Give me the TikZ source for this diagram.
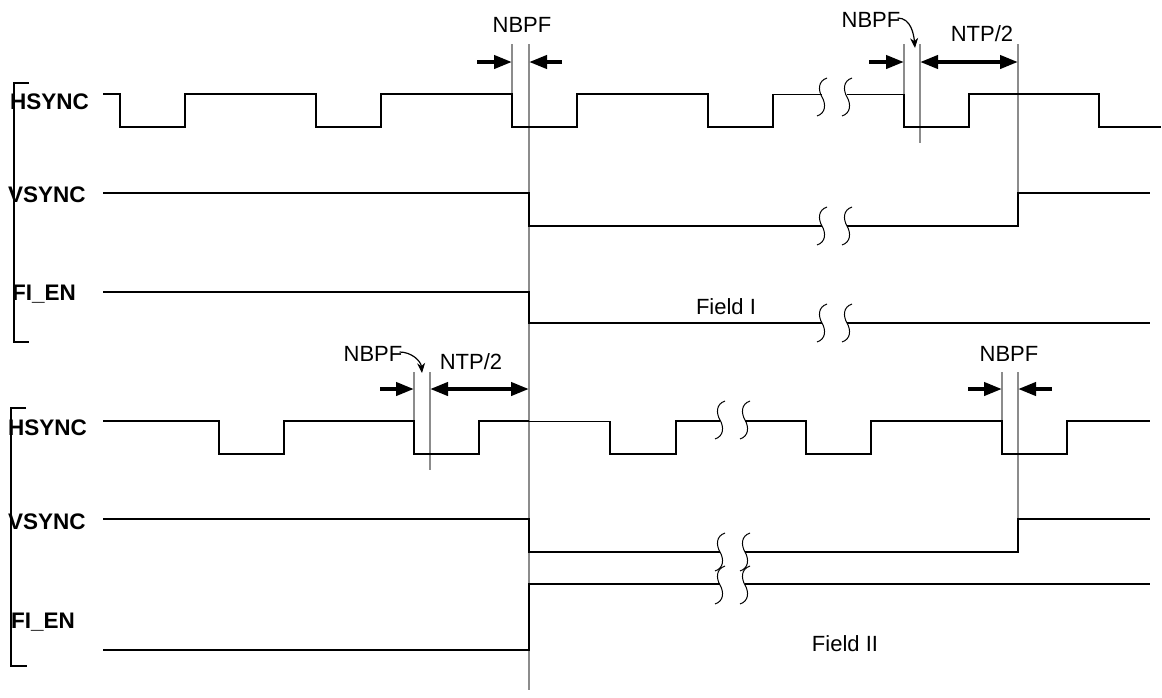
\documentclass[tikz,border=0pt]{standalone}
\usepackage{fontspec}
\setmainfont{Liberation Sans}
\usetikzlibrary{arrows.meta}
\definecolor{guidegray}{RGB}{140,140,140}
\tikzset{
  sig/.style={line width=2pt, line join=miter},
  thinsig/.style={line width=1pt},
  guide/.style={line width=2pt, draw=guidegray},
  dimarrow/.style={line width=4pt, -{Triangle[length=18pt,width=13pt]}},
  dimboth/.style={line width=4pt, {Triangle[length=18pt,width=13pt]}-{Triangle[length=18pt,width=13pt]}},
  bracketline/.style={line width=2pt},
  signame/.style={font=\fontsize{22.5}{26}\selectfont\bfseries, anchor=west, inner sep=0pt},
  lbl/.style={font=\fontsize{22}{26}\selectfont, inner sep=0pt},
  callout/.style={line width=1.2pt, -{Stealth[length=10pt,width=8pt]}},
  brkmark/.pic={\draw[line width=1pt] (5,-19) .. controls (-4,-16) and (-4,-7) .. (0,0) .. controls (4,7) and (4,16) .. (-5,19);}
}
\begin{document}
\begin{tikzpicture}[x=1pt,y=-1pt]
\useasboundingbox (0,0) rectangle (1162,697);

% ---------- brackets ----------
\draw[bracketline] (29,83) -- (14,83) -- (14,342) -- (29,342);
\draw[bracketline] (26,408) -- (11,408) -- (11,666) -- (27,666);

% ---------- signal names ----------
\node[signame] (hs1) at (10,102) {HSYNC};
\node[signame] (vs1) at (8,195) {VSYNC};
\node[signame] (fi1) at (12,294) {FI\_EN};
\node[signame] (hs2) at (8,428) {HSYNC};
\node[signame] (vs2) at (8,522) {VSYNC};
\node[signame] (fi2) at (11,622) {FI\_EN};

% ---------- guide lines ----------
\draw[guide] (529,44) -- (529,690);
\draw[guide] (512,44) -- (512,94);
\draw[guide] (904,44) -- (904,94);
\draw[guide] (920,44) -- (920,143);
\draw[guide] (1018,44) -- (1018,193);
\draw[guide] (414,372) -- (414,421);
\draw[guide] (430,372) -- (430,470);
\draw[guide] (1002,372) -- (1002,421);
\draw[guide] (1018,372) -- (1018,519);

% ---------- top field ----------
\draw[sig] (103,94) -- (120,94) -- (120,127) -- (185,127) -- (185,94) -- (316,94) -- (316,127)
  -- (381,127) -- (381,94) -- (512,94) -- (512,127) -- (577,127) -- (577,94) -- (708,94)
  -- (708,127) -- (773,127) -- (773,94);
\draw[thinsig] (773,94) -- (822,94);
\draw[thinsig] (847,94) -- (904,94);
\draw[sig] (904,94) -- (904,127) -- (969,127) -- (969,94) -- (1099,94) -- (1099,127) -- (1161,127);
\pic at (822,97) {brkmark};
\pic at (847,97) {brkmark};

\draw[sig] (103,193) -- (529,193) -- (529,226) -- (822,226);
\draw[sig] (847,226) -- (1018,226) -- (1018,193) -- (1150,193);
\pic at (822,226) {brkmark};
\pic at (847,226) {brkmark};

\draw[sig] (103,292) -- (529,292) -- (529,323) -- (822,323);
\draw[sig] (847,323) -- (1150,323);
\pic at (822,323) {brkmark};
\pic at (847,323) {brkmark};
\node[lbl] (f1) at (726,307) {Field I};

% top dimensions
\coordinate (a1) at (477,62); \coordinate (a1e) at (512,62);
\coordinate (a2) at (562,62); \coordinate (a2e) at (529,62);
\draw[dimarrow] (a1) -- (a1e);
\draw[dimarrow] (a2) -- (a2e);
\node[lbl] (nb1) at (522,25) {NBPF};

\coordinate (a3) at (869,62); \coordinate (a3e) at (904,62);
\coordinate (a4) at (920,62); \coordinate (a4e) at (1018,62);
\draw[dimarrow] (a3) -- (a3e);
\draw[dimboth] (a4) -- (a4e);
\node[lbl] (nb2) at (871,20) {NBPF};
\node[lbl] (ntp1) at (982,34) {NTP/2};
\coordinate (c2) at (915,48);
\draw[callout] ([xshift=-3pt,yshift=2pt]nb2.east) to[out=0,in=95] (c2);

% ---------- bottom field ----------
\draw[sig] (103,421) -- (219,421) -- (219,454) -- (284,454) -- (284,421) -- (414,421) -- (414,454)
  -- (479,454) -- (479,421) -- (529,421);
\draw[thinsig] (529,421) -- (610,421);
\draw[sig] (610,421) -- (610,454) -- (676,454) -- (676,421) -- (720,421);
\draw[sig] (745,421) -- (806,421) -- (806,454) -- (871,454) -- (871,421) -- (1002,421) -- (1002,454)
  -- (1067,454) -- (1067,421) -- (1150,421);
\pic at (720,420) {brkmark};
\pic at (745,420) {brkmark};

\draw[sig] (103,519) -- (529,519) -- (529,552) -- (720,552);
\draw[sig] (745,552) -- (1018,552) -- (1018,519) -- (1150,519);
\pic at (720,552) {brkmark};
\pic at (745,552) {brkmark};

\draw[sig] (103,650) -- (529,650) -- (529,584) -- (720,584);
\draw[sig] (745,584) -- (1150,584);
\pic at (720,585) {brkmark};
\pic at (745,585) {brkmark};
\node[lbl] (f2) at (845,644) {Field II};

% bottom dimensions
\coordinate (b1) at (380,389); \coordinate (b1e) at (414,389);
\coordinate (b2) at (430,389); \coordinate (b2e) at (529,389);
\draw[dimarrow] (b1) -- (b1e);
\draw[dimboth] (b2) -- (b2e);
\node[lbl] (nb3) at (373,354) {NBPF};
\node[lbl] (ntp2) at (471,362) {NTP/2};
\coordinate (c3) at (422,373);
\draw[callout] ([xshift=-3pt,yshift=2pt]nb3.east) to[out=0,in=95] (c3);

\coordinate (b3) at (968,389); \coordinate (b3e) at (1002,389);
\coordinate (b4) at (1052,389); \coordinate (b4e) at (1018,389);
\draw[dimarrow] (b3) -- (b3e);
\draw[dimarrow] (b4) -- (b4e);
\node[lbl] (nb4) at (1009,354) {NBPF};
\end{tikzpicture}
\end{document}
